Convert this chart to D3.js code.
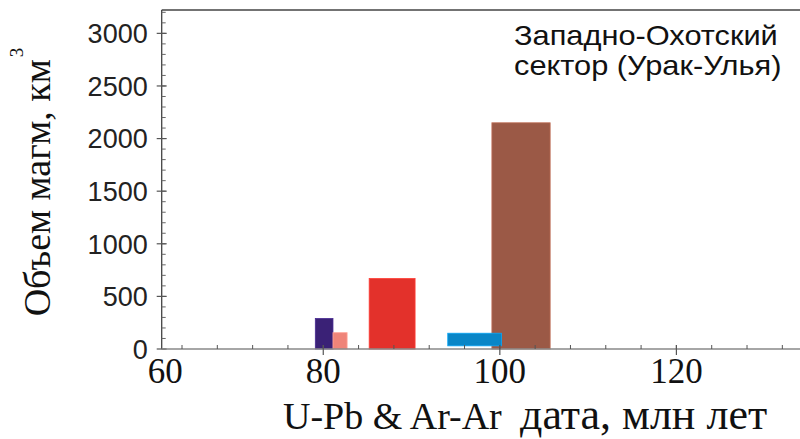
<!DOCTYPE html>
<html><head><meta charset="utf-8">
<script src="https://cdnjs.cloudflare.com/ajax/libs/d3/7.8.5/d3.min.js"></script>
<style>body{margin:0;background:#fff}svg{display:block}</style>
</head><body>
<svg id="c" width="800" height="439"></svg>
<script>
// Data
const barNames = ["b1", "b2", "b3", "b4", "b5"];
const barStart = [79.1, 81.1, 85.2, 94.1, 99.1];
const barEnd   = [81.1, 82.7, 90.4, 100.2, 105.7];
const barBase  = [0, 0, 0, 30, 0];
const barValue = [290, 155, 670, 150, 2150];
const barColors = ["#3a2176", "#ef8479", "#e3312b", "#0986c7", "#9b5946"];
const drawOrder = [0, 1, 2, 4, 3];
const yTicks = [0, 500, 1000, 1500, 2000, 2500, 3000];
const xTickLabels = [60, 80, 100, 120];
const xMajor = [80, 100, 120];

const svg = d3.select("#c");
const x = d3.scaleLinear().domain([61.7, 134]).range([161.7, 800]);
const y = d3.scaleLinear().domain([0, 3222]).range([349, 10]);
const x0 = x.range()[0];

// bars
drawOrder.forEach(i => {
  svg.append("rect")
    .attr("x", x(barStart[i])).attr("width", x(barEnd[i]) - x(barStart[i]))
    .attr("y", y(barValue[i])).attr("height", y(barBase[i]) - y(barValue[i]))
    .attr("fill", barColors[i])
    .attr("stroke", d3.color(barColors[i]).brighter(0.6)).attr("stroke-width", 0.8);
});

// top frame
svg.append("line").attr("x1", x0).attr("x2", 800).attr("y1", 10).attr("y2", 10)
  .attr("stroke", "#444").attr("stroke-width", 1.3);

// y axis
const gy = svg.append("g").attr("transform", `translate(${x0},0)`);
gy.append("line").attr("y1", y.range()[1]).attr("y2", y.range()[0]).attr("stroke", "#444").attr("stroke-width", 1.3);
const minorY = d3.range(0, 3201, 100);
gy.selectAll(".my").data(minorY).enter().append("line")
  .attr("x1", 0).attr("x2", 4).attr("y1", d => y(d)).attr("y2", d => y(d))
  .attr("stroke", "#666").attr("stroke-width", 1);
gy.selectAll(".My").data(yTicks).enter().append("line")
  .attr("x1", -5).attr("x2", 5).attr("y1", d => y(d)).attr("y2", d => y(d))
  .attr("stroke", "#555").attr("stroke-width", 1.2);
gy.selectAll(".ty").data(yTicks).enter().append("text")
  .attr("x", -14).attr("y", d => y(d)).attr("dy", "0.36em")
  .attr("text-anchor", "end")
  .style("font-family", "'Liberation Sans', Arial, sans-serif").style("font-size", "27px")
  .attr("fill", "#222")
  .text(d => d);

// x axis
const gx = svg.append("g").attr("transform", `translate(0,${y(0)})`);
gx.append("line").attr("x1", x0).attr("x2", 800).attr("stroke", "#888").attr("stroke-width", 1.5);
const minorX = d3.range(64, 134, 4);
gx.selectAll(".mx").data(minorX).enter().append("line")
  .attr("x1", d => x(d)).attr("x2", d => x(d)).attr("y1", -4).attr("y2", 0)
  .attr("stroke", "#555").attr("stroke-width", 1);
gx.selectAll(".Mx").data(xMajor).enter().append("line")
  .attr("x1", d => x(d)).attr("x2", d => x(d)).attr("y1", -4).attr("y2", 6)
  .attr("stroke", "#555").attr("stroke-width", 1.2);
gx.selectAll(".tx").data(xTickLabels).enter().append("text")
  .attr("x", d => Math.max(x(d), x0 + 3.5)).attr("y", 33.5)
  .attr("text-anchor", "middle")
  .style("font-family", "'Liberation Serif', 'Times New Roman', serif").style("font-size", "35px")
  .attr("fill", "#111")
  .text(d => d);

// x title
const xt = svg.append("text").attr("x", 283).attr("y", 429)
  .style("font-family", "'Liberation Serif', 'Times New Roman', serif").attr("fill", "#111");
xt.append("tspan").attr("x", 283).style("font-size", "38px").text("U-Pb  & Ar-Ar");
xt.append("tspan").attr("x", 520).style("font-size", "44px").text("дата, млн лет");

// y title
const yt = svg.append("text").attr("transform", "translate(50,182) rotate(-90)")
  .attr("text-anchor", "middle")
  .style("font-family", "'Liberation Serif', 'Times New Roman', serif").style("font-size", "38px")
  .attr("fill", "#111");
yt.append("tspan").text("Объем магм, км");
yt.append("tspan").attr("dy", -27).attr("dx", 2).style("font-size", "19px").text("3");

// annotation
const ann = svg.append("g").attr("transform", "translate(514,0) scale(1.14,1)")
  .style("font-family", "'Liberation Sans', Arial, sans-serif").style("font-size", "27px").attr("fill", "#111");
ann.append("text").attr("x", 0).attr("y", 45).text("Западно-Охотский");
ann.append("text").attr("x", 0).attr("y", 75).text("сектор (Урак-Улья)");
</script>
</body></html>
